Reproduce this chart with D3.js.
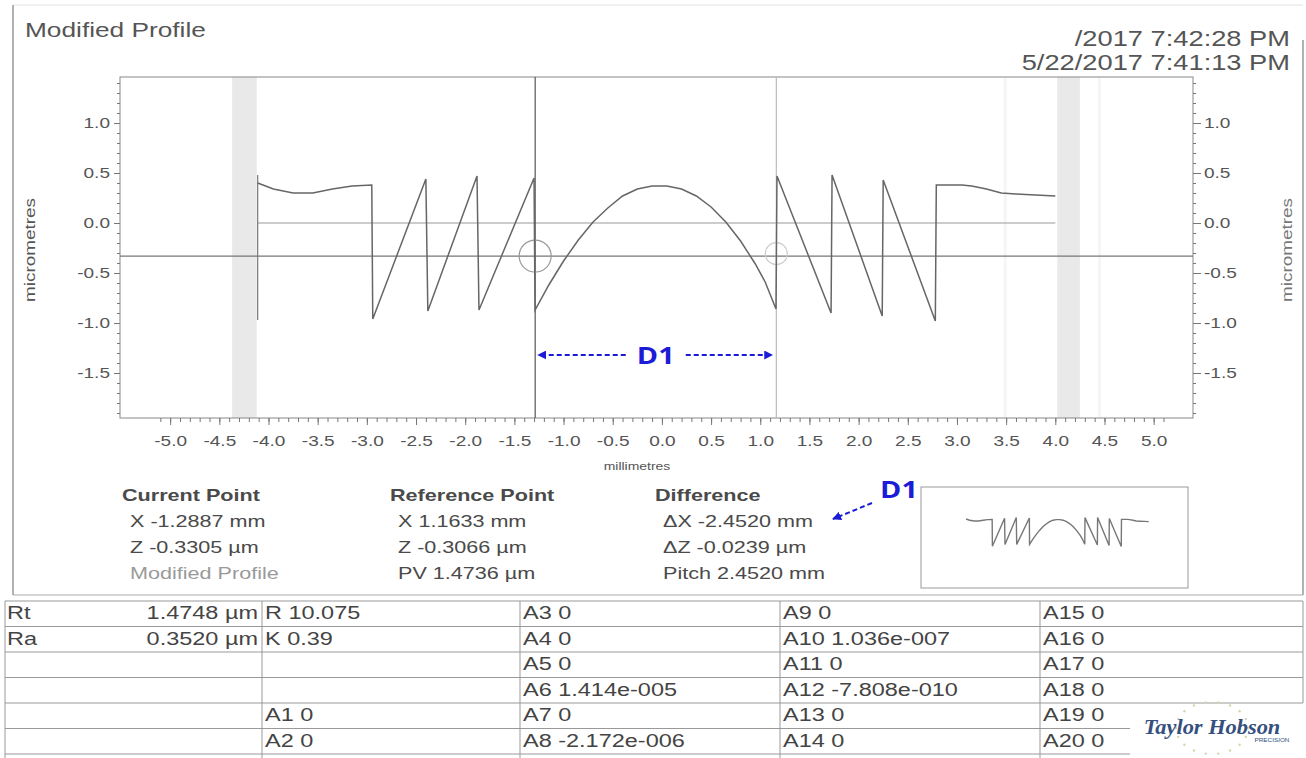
<!DOCTYPE html>
<html><head><meta charset="utf-8">
<script src="https://cdn.jsdelivr.net/npm/d3@7/dist/d3.min.js"></script>
<style>
html,body{margin:0;padding:0;background:#fff;}
svg{display:block;font-family:"Liberation Sans",Arial,sans-serif;}
</style></head>
<body><svg id="c" width="1306" height="758"></svg>
<script>
// ---------- data ----------
const profileX = [-4.11,-3.95,-3.75,-3.55,-3.35,-3.15,-2.95,-2.94,-2.40,-2.38,-1.88,-1.86,-1.30,-1.29,
  -1.15,-1.0,-0.85,-0.7,-0.55,-0.4,-0.25,-0.1,0.05,0.2,0.35,0.5,0.65,0.8,0.95,1.05,1.16,
  1.17,1.72,1.73,2.24,2.25,2.78,2.79,3.05,3.15,3.3,3.45,3.6,3.8,4.0];
const profileZ = [0.40,0.34,0.30,0.30,0.34,0.37,0.38,-0.96,0.44,-0.88,0.47,-0.87,0.45,-0.87,
  -0.62,-0.38,-0.17,0.01,0.15,0.27,0.34,0.37,0.37,0.34,0.27,0.16,0.01,-0.18,-0.41,-0.59,-0.86,
  0.47,-0.90,0.48,-0.93,0.43,-0.98,0.38,0.38,0.37,0.34,0.30,0.29,0.28,0.27];
const xTickLabels = [-5.0,-4.5,-4.0,-3.5,-3.0,-2.5,-2.0,-1.5,-1.0,-0.5,0.0,0.5,1.0,1.5,2.0,2.5,3.0,3.5,4.0,4.5,5.0];
const yTickLabels = [-1.5,-1.0,-0.5,0.0,0.5,1.0];
const xDomain = [-5.51, 5.40];
const yDomain = [-1.95, 1.46];
const fitRange = [-4.11, 4.0];          // reference (zero) line extent
const startMarker = [-4.11, 0.48, -0.97];
const grayBands = [[-4.37,-4.12],[4.02,4.25]];
const faintLines = [3.49, 4.45];
const currentPoint = {x:-1.2887, z:-0.3305};
const referencePoint = {x:1.1633, z:-0.3066};
const infoCurrent = ["Current Point","X  -1.2887 mm","Z  -0.3305 µm","Modified Profile"];
const infoReference = ["Reference Point","X  1.1633 mm","Z  -0.3066 µm","PV 1.4736 µm"];
const infoDifference = ["Difference","ΔX  -2.4520 mm","ΔZ  -0.0239 µm","Pitch 2.4520 mm"];
const tableCol1Name = ["Rt","Ra","","","",""];
const tableCol1Value = ["1.4748 µm","0.3520 µm","","","",""];
const tableCol2 = ["R 10.075","K 0.39","","","A1 0","A2 0"];
const tableCol3 = ["A3 0","A4 0","A5 0","A6 1.414e-005","A7 0","A8 -2.172e-006"];
const tableCol4 = ["A9 0","A10 1.036e-007","A11 0","A12 -7.808e-010","A13 0","A14 0"];
const tableCol5 = ["A15 0","A16 0","A17 0","A18 0","A19 0","A20 0"];
const titleText = "Modified Profile";
const dateLines = ["/2017 7:42:28 PM","5/22/2017 7:41:13 PM"];

// ---------- layout ----------
const svg = d3.select("#c");
const P = {l:120, r:1193, t:77, b:418};
const x = d3.scaleLinear().domain(xDomain).range([P.l, P.r]);
const y = d3.scaleLinear().domain(yDomain).range([P.b, P.t]);
const txt = "#4a4a4a";
const blue = "#1c1cd6";
const SX = 1.27;   // horizontal stretch of the scanned text

function T(x0,y0,s,size,o={}){
  const t = svg.append("text")
    .attr("transform",`translate(${x0},${y0})${o.rot?` rotate(${o.rot})`:""} scale(${o.sx||SX},1)`)
    .attr("font-size",size).attr("text-anchor",o.anchor||"start")
    .attr("fill",o.fill||txt).attr("font-weight",o.weight||"normal").text(s);
  if(o.family) t.attr("font-family",o.family);
  if(o.style) t.attr("font-style",o.style);
  return t;
}

// outer frame of report
svg.append("line").attr("x1",13).attr("x2",1303).attr("y1",5).attr("y2",5).attr("stroke","#e2e2e2");
svg.append("line").attr("x1",13).attr("x2",13).attr("y1",5).attr("y2",595).attr("stroke","#999").attr("stroke-width",1.5);
svg.append("line").attr("x1",1303).attr("x2",1303).attr("y1",40).attr("y2",595).attr("stroke","#999").attr("stroke-width",1.5);
svg.append("line").attr("x1",13).attr("x2",1303).attr("y1",595).attr("y2",595).attr("stroke","#aaa");

// title / dates
T(25,37,titleText,21,{fill:"#555",sx:1.25});
dateLines.forEach((d,i)=>T(1290,46+i*24,d,22,{fill:"#555",anchor:"end",sx:1.24}));

// gray bands
svg.selectAll("rect.band").data(grayBands).join("rect").attr("class","band")
  .attr("x",d=>x(d[0])).attr("width",d=>x(d[1])-x(d[0])).attr("y",P.t).attr("height",P.b-P.t)
  .attr("fill","#e9e9e9");
faintLines.forEach(v=>svg.append("line").attr("x1",x(v)).attr("x2",x(v)).attr("y1",P.t).attr("y2",P.b).attr("stroke","#f5f5f5").attr("stroke-width",3));

// frame
svg.append("rect").attr("x",P.l).attr("y",P.t).attr("width",P.r-P.l).attr("height",P.b-P.t)
  .attr("fill","none").attr("stroke","#888").attr("stroke-width",1);

// axes
function fmt(d){return (+d).toFixed(1);}
const yMinor = d3.range(-19,15).map(d=>d/10);
const xMinor = d3.range(-51,52).map(d=>d/10);
function styleAxis(g){
  g.select(".domain").remove();
  g.selectAll("line").attr("stroke","#777");
  g.selectAll("text").attr("fill","#555").attr("font-size",15).attr("font-family","Liberation Sans, Arial, sans-serif");
}
function stretch(g,side){
  g.selectAll("text").each(function(){
    const t = d3.select(this);
    if(side==="left"||side==="right") t.attr("x",(+t.attr("x"))/SX);
    t.attr("transform",`scale(${SX},1)`);
  });
}
svg.append("g").attr("transform",`translate(${P.l},0)`).call(d3.axisLeft(y).tickValues(yMinor).tickSize(3).tickFormat("")).call(styleAxis);
svg.append("g").attr("transform",`translate(${P.l},0)`).call(d3.axisLeft(y).tickValues(yTickLabels).tickSize(6).tickPadding(4).tickFormat(fmt)).call(styleAxis).call(g=>stretch(g,"left"));
svg.append("g").attr("transform",`translate(${P.r},0)`).call(d3.axisRight(y).tickValues(yMinor).tickSize(3).tickFormat("")).call(styleAxis);
svg.append("g").attr("transform",`translate(${P.r},0)`).call(d3.axisRight(y).tickValues(yTickLabels).tickSize(8).tickPadding(3).tickFormat(fmt)).call(styleAxis).call(g=>stretch(g,"right"));
svg.append("g").attr("transform",`translate(0,${P.b})`).call(d3.axisBottom(x).tickValues(xMinor).tickSize(4).tickFormat("")).call(styleAxis);
svg.append("g").attr("transform",`translate(0,${P.b})`).call(d3.axisBottom(x).tickValues(xTickLabels).tickSize(7).tickPadding(10).tickFormat(fmt)).call(styleAxis).call(g=>stretch(g,"bottom"));

T(637,470,"millimetres",11,{anchor:"middle",fill:"#555"});
T(35,250,"micrometres",14,{anchor:"middle",fill:"#555",rot:-90,sx:1.35});
T(1292,250,"micrometres",14,{anchor:"middle",fill:"#777",rot:-90,sx:1.35});

// reference zero line
svg.append("line").attr("x1",x(fitRange[0])).attr("x2",x(fitRange[1])).attr("y1",y(0)).attr("y2",y(0)).attr("stroke","#999").attr("stroke-width",1.2);
// start marker
svg.append("line").attr("x1",x(startMarker[0])).attr("x2",x(startMarker[0])).attr("y1",y(startMarker[1])).attr("y2",y(startMarker[2])).attr("stroke","#777").attr("stroke-width",1.2);

// cursors
svg.append("line").attr("x1",P.l).attr("x2",P.r).attr("y1",y(currentPoint.z)).attr("y2",y(currentPoint.z)).attr("stroke","#777").attr("stroke-width",1.2);
svg.append("line").attr("x1",x(currentPoint.x)).attr("x2",x(currentPoint.x)).attr("y1",P.t).attr("y2",P.b).attr("stroke","#555").attr("stroke-width",1.2);
svg.append("line").attr("x1",x(referencePoint.x)).attr("x2",x(referencePoint.x)).attr("y1",P.t).attr("y2",P.b).attr("stroke","#bbb").attr("stroke-width",1.2);
svg.append("circle").attr("cx",x(currentPoint.x)).attr("cy",y(currentPoint.z)).attr("r",16).attr("fill","none").attr("stroke","#999").attr("stroke-width",1.2);
svg.append("circle").attr("cx",x(referencePoint.x)).attr("cy",y(referencePoint.z)).attr("r",11).attr("fill","none").attr("stroke","#ccc").attr("stroke-width",1.2);

// profile
const pts = profileX.map((v,i)=>[v,profileZ[i]]);
const line = d3.line().x(d=>x(d[0])).y(d=>y(d[1]));
svg.append("path").datum(pts).attr("d",line).attr("fill","none").attr("stroke","#666").attr("stroke-width",1.5);

// D1 annotation
const defs = svg.append("defs");
defs.append("marker").attr("id","ah").attr("viewBox","0 0 10 10").attr("refX",9).attr("refY",5)
  .attr("markerWidth",4.5).attr("markerHeight",4.5).attr("orient","auto-start-reverse")
  .append("path").attr("d","M0,0 L10,5 L0,10 z").attr("fill",blue);
const dy = y(-1.32), mid = x((currentPoint.x+referencePoint.x)/2);
svg.append("line").attr("x1",mid-30).attr("x2",x(currentPoint.x)+3).attr("y1",dy).attr("y2",dy)
  .attr("stroke",blue).attr("stroke-width",2).attr("stroke-dasharray","5,3").attr("marker-end","url(#ah)");
svg.append("line").attr("x1",mid+30).attr("x2",x(referencePoint.x)-4).attr("y1",dy).attr("y2",dy)
  .attr("stroke",blue).attr("stroke-width",2).attr("stroke-dasharray","5,3").attr("marker-end","url(#ah)");
T(mid,dy+9,"D1",24,{anchor:"middle",fill:blue,weight:"bold",family:"Open Sans, sans-serif",sx:1.2});

// info panel
function infoBlock(lines,x0,ind){
  lines.forEach((t,i)=>{
    T(i===0?x0:x0+ind, 501+i*26, t, 17, {weight:i===0?"bold":"normal", fill:(i===3&&t==="Modified Profile")?"#9a9a9a":txt});
  });
}
infoBlock(infoCurrent,122,8);
infoBlock(infoReference,390,8);
infoBlock(infoDifference,655,8);
T(899,498,"D1",24,{anchor:"middle",fill:blue,weight:"bold",family:"Open Sans, sans-serif",sx:1.2});
svg.append("line").attr("x1",872).attr("y1",503).attr("x2",833).attr("y2",519)
  .attr("stroke",blue).attr("stroke-width",2).attr("stroke-dasharray","5,3").attr("marker-end","url(#ah)");

// thumbnail
svg.append("rect").attr("x",921).attr("y",487).attr("width",267).attr("height",101).attr("fill","none").attr("stroke","#999");
const tx = d3.scaleLinear().domain([-4.6,4.5]).range([955,1160]);
const ty = d3.scaleLinear().domain([-1,0.5]).range([547,517]);
svg.append("path").datum(pts).attr("d",d3.line().x(d=>tx(d[0])).y(d=>ty(d[1]))).attr("fill","none").attr("stroke","#777").attr("stroke-width",1.4);

// table
const tTop = 601, rh = 25.5;
const colX = [5,262,520,780,1040,1303];
for(let i=0;i<=6;i++){
  const yy = tTop+i*rh;
  const xr = (i>=5)?1130:1303;
  svg.append("line").attr("x1",5).attr("x2",xr).attr("y1",yy).attr("y2",yy).attr("stroke","#999");
}
colX.forEach((cx,j)=>{
  const yEnd = j===5 ? tTop+4*rh : 758;
  svg.append("line").attr("x1",cx).attr("x2",cx).attr("y1",tTop).attr("y2",yEnd).attr("stroke","#999");
});
const rowY = i => tTop + i*rh + 18;
const tf = 18.5;
function col(arr,x0,anchor){
  arr.forEach((d,i)=>{ if(d) T(x0,rowY(i),d,tf,{anchor:anchor||"start",fill:"#444"}); });
}
col(tableCol1Name,7);
col(tableCol1Value,258,"end");
col(tableCol2,265);
col(tableCol3,523);
col(tableCol4,783);
col(tableCol5,1043);

// logo
const lc = [1212,728];
d3.range(0,360,20).forEach(a=>{
  const r = a*Math.PI/180;
  svg.append("circle").attr("cx",lc[0]+36*Math.cos(r)).attr("cy",lc[1]+26*Math.sin(r)).attr("r",1.2).attr("fill","#d9d3b0");
});
T(1212,734,"Taylor Hobson",20,{anchor:"middle",fill:"#35507e",weight:"bold",style:"italic",family:"Liberation Serif, serif",sx:1.12});
T(1272,742,"PRECISION",5,{anchor:"middle",fill:"#35507e"});
</script></body></html>
